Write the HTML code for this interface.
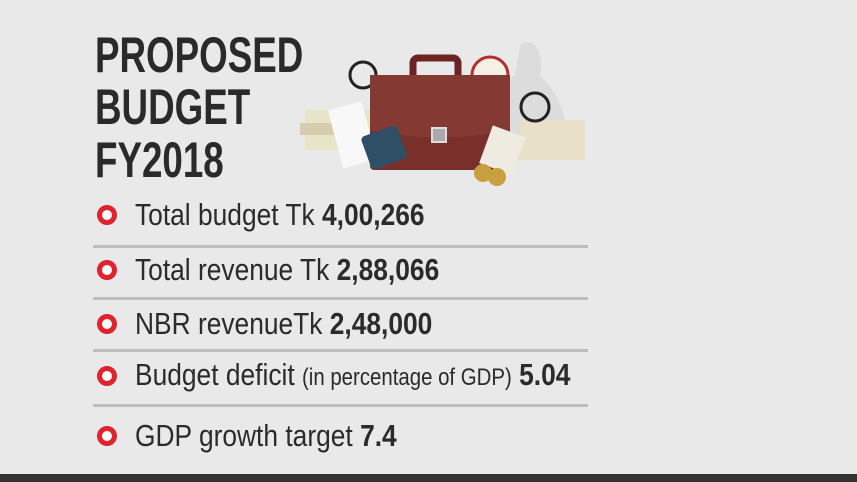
<!DOCTYPE html>
<html><head><style>
body{margin:0;width:857px;height:482px;background:#e9e9e9;overflow:hidden;position:relative;font-family:"Liberation Sans",sans-serif;color:#2b2b2b}
.t{position:absolute;left:95px;font-weight:bold;font-size:50px;line-height:50px;transform:scaleX(0.735);transform-origin:left top;white-space:nowrap;color:#2a2a2a}
.it{position:absolute;left:135px;font-size:31px;line-height:36px;transform:scaleX(0.85);transform-origin:left top;white-space:nowrap}
.it b{font-weight:bold}
.it small{font-size:24px}
.bul{position:absolute;left:97px;width:10px;height:10px;border:5px solid #e0232f;border-radius:50%;background:#fff}
.sep{position:absolute;left:93px;width:495px;height:3px;background:#bebebe}
</style></head><body>
<div class="t" style="top:30px">PROPOSED</div>
<div class="t" style="top:82px">BUDGET</div>
<div class="t" style="top:135px">FY2018</div>

<svg style="position:absolute;left:295px;top:35px" width="300" height="155" viewBox="0 0 300 155">
<path d="M225 10 C240 0 250 20 245 40 C275 70 280 110 250 125 L200 125 C180 100 190 60 220 40 Z" fill="#dcdcdc"/>
<circle cx="195" cy="40" r="18" fill="#f5f0e6" stroke="#b03030" stroke-width="3"/>
<rect x="10" y="75" width="70" height="40" fill="#e8e4c8"/><rect x="5" y="88" width="60" height="12" fill="#d8ccb0"/>
<rect x="225" y="85" width="65" height="40" fill="#e8e0c8"/>
<rect x="40" y="70" width="35" height="60" fill="#f8f8f8" transform="rotate(-15 57 100)"/>
<circle cx="68" cy="40" r="13" fill="none" stroke="#222" stroke-width="3"/>
<circle cx="240" cy="72" r="14" fill="none" stroke="#222" stroke-width="3"/>
<rect x="118" y="23" width="45" height="25" rx="5" fill="none" stroke="#6b2424" stroke-width="7"/>
<rect x="75" y="40" width="140" height="95" rx="4" fill="#7a302a"/>
<path d="M75 40 h140 v55 q-70 15 -140 0z" fill="#843a32"/>
<rect x="137" y="93" width="14" height="14" fill="#aaa" stroke="#ddd" stroke-width="2"/>
<rect x="70" y="95" width="38" height="35" rx="4" fill="#2f4f66" transform="rotate(-20 89 112)"/>
<rect x="190" y="95" width="35" height="40" fill="#f0ebe0" transform="rotate(20 207 115)"/>
<circle cx="188" cy="138" r="9" fill="#c9a040"/><circle cx="202" cy="142" r="9" fill="#c9a040"/>
</svg>

<div class="bul" style="top:205px"></div><div class="it" style="top:197px">Total budget Tk <b>4,00,266</b></div>
<div class="sep" style="top:245px"></div>
<div class="bul" style="top:260px"></div><div class="it" style="top:252px">Total revenue Tk <b>2,88,066</b></div>
<div class="sep" style="top:297px"></div>
<div class="bul" style="top:314px"></div><div class="it" style="top:306px">NBR revenueTk <b>2,48,000</b></div>
<div class="sep" style="top:349px"></div>
<div class="bul" style="top:366px"></div><div class="it" style="top:357px">Budget deficit <small>(in percentage of GDP)</small> <b>5.04</b></div>
<div class="sep" style="top:404px"></div>
<div class="bul" style="top:426px"></div><div class="it" style="top:418px">GDP growth target <b>7.4</b></div>

<div style="position:absolute;left:0;top:474px;width:857px;height:8px;background:#333"></div>
</body></html>
